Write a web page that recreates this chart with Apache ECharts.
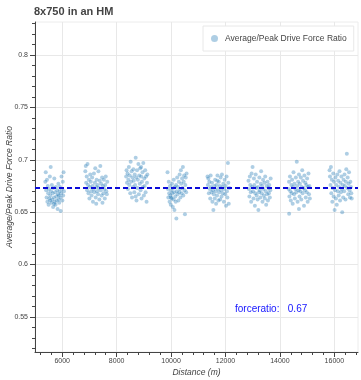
<!DOCTYPE html>
<html>
<head>
<meta charset="utf-8">
<script src="https://cdn.jsdelivr.net/npm/echarts@6/dist/echarts.min.js"></script>
<style>
html,body{margin:0;padding:0;background:#fff;}
#chart{width:361px;height:380px;}
</style>
</head>
<body>
<div id="chart"></div>
<script>
// ---- data: [distance (m), average/peak drive force ratio] per 750 m piece ----
const piece1 = [[5380,0.679],[5395,0.688],[5410,0.671],[5425,0.664],[5440,0.681],[5455,0.660],[5470,0.675],[5485,0.668],[5500,0.657],[5515,0.672],[5530,0.663],[5545,0.684],[5560,0.666],[5577,0.693],[5590,0.670],[5605,0.659],[5620,0.676],[5635,0.662],[5650,0.668],[5665,0.655],[5680,0.673],[5695,0.664],[5710,0.682],[5725,0.660],[5740,0.669],[5755,0.657],[5770,0.674],[5785,0.665],[5800,0.661],[5815,0.671],[5830,0.653],[5845,0.667],[5860,0.677],[5875,0.662],[5890,0.659],[5905,0.670],[5920,0.674],[5935,0.664],[5945,0.651],[5960,0.668],[5975,0.684],[5990,0.672],[6005,0.661],[6020,0.679],[6035,0.666],[6050,0.688],[6065,0.670],[5560,0.661],[5700,0.658],[5880,0.666]];
const piece2 = [[6850,0.689],[6865,0.694],[6880,0.678],[6900,0.684],[6915,0.671],[6930,0.696],[6950,0.676],[6965,0.668],[6980,0.681],[7000,0.663],[7015,0.674],[7030,0.686],[7050,0.679],[7065,0.670],[7080,0.666],[7100,0.683],[7115,0.675],[7130,0.660],[7150,0.672],[7165,0.687],[7180,0.669],[7200,0.678],[7215,0.692],[7230,0.664],[7250,0.674],[7265,0.681],[7280,0.670],[7300,0.676],[7315,0.667],[7330,0.689],[7350,0.673],[7365,0.662],[7380,0.680],[7400,0.694],[7415,0.671],[7430,0.677],[7450,0.666],[7465,0.683],[7480,0.659],[7500,0.675],[7515,0.668],[7530,0.681],[7550,0.672],[7565,0.663],[7580,0.676],[7600,0.684],[7620,0.670],[7640,0.667],[7655,0.679],[7250,0.658]];
const piece3 = [[8350,0.684],[8365,0.690],[8380,0.678],[8400,0.687],[8415,0.672],[8430,0.681],[8450,0.693],[8465,0.676],[8480,0.685],[8500,0.668],[8515,0.698],[8530,0.679],[8550,0.689],[8565,0.664],[8580,0.683],[8600,0.674],[8615,0.691],[8630,0.680],[8650,0.669],[8665,0.686],[8680,0.676],[8700,0.702],[8715,0.683],[8730,0.661],[8750,0.690],[8765,0.673],[8780,0.681],[8800,0.696],[8815,0.667],[8830,0.685],[8850,0.677],[8865,0.692],[8880,0.671],[8900,0.684],[8915,0.663],[8930,0.679],[8950,0.688],[8965,0.674],[8980,0.697],[9000,0.666],[9015,0.682],[9030,0.675],[9050,0.690],[9065,0.669],[9080,0.684],[9100,0.660],[9115,0.678],[9130,0.686],[8700,0.665],[8900,0.693]];
const piece4 = [[9870,0.688],[9885,0.672],[9900,0.664],[9915,0.679],[9930,0.668],[9945,0.660],[9960,0.675],[9975,0.666],[9990,0.657],[10005,0.671],[10020,0.663],[10035,0.677],[10050,0.668],[10065,0.655],[10080,0.673],[10095,0.662],[10110,0.669],[10125,0.652],[10140,0.674],[10155,0.665],[10170,0.660],[10185,0.676],[10195,0.644],[10210,0.670],[10225,0.683],[10240,0.667],[10255,0.674],[10270,0.661],[10285,0.679],[10300,0.669],[10315,0.686],[10330,0.672],[10345,0.664],[10360,0.690],[10375,0.677],[10390,0.668],[10405,0.682],[10420,0.673],[10435,0.693],[10450,0.666],[10465,0.679],[10480,0.685],[10495,0.671],[10510,0.648],[10525,0.676],[10540,0.683],[10555,0.669],[10570,0.687],[10100,0.681],[10000,0.664]];
const piece5 = [[11340,0.684],[11355,0.676],[11370,0.682],[11390,0.668],[11405,0.679],[11420,0.672],[11440,0.663],[11455,0.685],[11470,0.674],[11490,0.669],[11505,0.678],[11520,0.660],[11540,0.671],[11555,0.652],[11570,0.667],[11590,0.675],[11605,0.663],[11620,0.681],[11640,0.670],[11655,0.658],[11670,0.676],[11690,0.666],[11705,0.685],[11720,0.672],[11740,0.661],[11755,0.679],[11770,0.669],[11790,0.675],[11805,0.662],[11820,0.683],[11840,0.671],[11855,0.665],[11870,0.686],[11890,0.674],[11905,0.668],[11920,0.677],[11940,0.660],[11955,0.672],[11970,0.681],[11990,0.667],[12005,0.675],[12020,0.656],[12040,0.684],[12055,0.670],[12070,0.664],[12090,0.697],[12105,0.678],[12120,0.658],[12140,0.673],[11700,0.680]];
const piece6 = [[12845,0.680],[12860,0.672],[12880,0.665],[12895,0.684],[12910,0.676],[12930,0.669],[12945,0.660],[12960,0.687],[12980,0.674],[12995,0.693],[13010,0.670],[13030,0.663],[13045,0.682],[13060,0.676],[13080,0.656],[13095,0.668],[13110,0.686],[13130,0.673],[13145,0.666],[13160,0.679],[13180,0.662],[13195,0.674],[13210,0.652],[13230,0.669],[13245,0.683],[13260,0.671],[13280,0.664],[13295,0.677],[13310,0.689],[13330,0.668],[13345,0.675],[13360,0.660],[13380,0.681],[13395,0.672],[13410,0.666],[13430,0.678],[13445,0.663],[13460,0.684],[13480,0.670],[13495,0.657],[13510,0.675],[13530,0.667],[13545,0.679],[13560,0.661],[13580,0.673],[13595,0.668],[13610,0.676],[13630,0.664],[13645,0.671],[13660,0.682]];
const piece7 = [[14320,0.672],[14335,0.679],[14350,0.665],[14370,0.684],[14385,0.670],[14400,0.661],[14420,0.676],[14435,0.668],[14450,0.681],[14470,0.658],[14485,0.674],[14500,0.688],[14520,0.667],[14535,0.677],[14550,0.663],[14570,0.672],[14585,0.683],[14600,0.669],[14620,0.698],[14635,0.675],[14650,0.660],[14670,0.679],[14685,0.671],[14700,0.686],[14720,0.665],[14735,0.677],[14750,0.670],[14770,0.683],[14785,0.662],[14800,0.674],[14820,0.690],[14835,0.668],[14850,0.680],[14870,0.673],[14885,0.656],[14900,0.685],[14920,0.671],[14935,0.678],[14950,0.664],[14970,0.676],[14985,0.669],[15000,0.682],[15020,0.660],[15035,0.674],[15050,0.687],[15070,0.667],[15085,0.675],[15100,0.663],[14340,0.6485],[14700,0.653]];
const piece8 = [[15825,0.690],[15840,0.684],[15860,0.676],[15875,0.693],[15890,0.668],[15910,0.681],[15925,0.660],[15940,0.673],[15960,0.687],[15975,0.665],[15990,0.679],[16010,0.652],[16025,0.671],[16040,0.683],[16060,0.663],[16075,0.676],[16090,0.657],[16110,0.686],[16125,0.670],[16140,0.680],[16160,0.666],[16175,0.674],[16190,0.689],[16210,0.661],[16225,0.678],[16240,0.669],[16260,0.684],[16275,0.672],[16290,0.650],[16310,0.676],[16325,0.664],[16340,0.681],[16360,0.670],[16375,0.686],[16390,0.675],[16410,0.662],[16425,0.679],[16440,0.691],[16460,0.7057],[16475,0.673],[16490,0.683],[16510,0.667],[16525,0.677],[16540,0.688],[16560,0.671],[16575,0.664],[16590,0.679],[16610,0.674],[16625,0.668],[16640,0.663]];

const meanRatio = 0.6735;
const meanLabel = 'forceratio:   0.67';
const seriesName = 'Average/Peak Drive Force Ratio';
const chartTitle = '8x750 in an HM';

// ---- axes ----
const xRange = [5000, 16870];
const yRange = [0.5165, 0.8315];
const xMajorTicks = [6000, 8000, 10000, 12000, 14000, 16000];
const xMinorTicks = [5200, 5600, 6400, 6800, 7200, 7600, 8400, 8800, 9200, 9600, 10400, 10800, 11200, 11600, 12400, 12800, 13200, 13600, 14400, 14800, 15200, 15600, 16400, 16800];
const yMajorTicks = [0.55, 0.6, 0.65, 0.7, 0.75, 0.8];
const yMinorTicks = [0.52, 0.53, 0.54, 0.56, 0.57, 0.58, 0.59, 0.61, 0.62, 0.63, 0.64, 0.66, 0.67, 0.68, 0.69, 0.71, 0.72, 0.73, 0.74, 0.76, 0.77, 0.78, 0.79, 0.81, 0.82, 0.83];

const allPoints = [].concat(piece1, piece2, piece3, piece4, piece5, piece6, piece7, piece8);

const FONT = '"Liberation Sans", Arial, Helvetica, sans-serif';
const AXIS_COLOR = '#444';

const chart = echarts.init(document.getElementById('chart'), null, {renderer: 'canvas'});
chart.setOption({
  animation: false,
  backgroundColor: '#fff',
  textStyle: {fontFamily: FONT},
  title: {
    text: chartTitle,
    left: 34, top: 6,
    padding: 0,
    textStyle: {fontSize: 11, fontWeight: 'bold', color: '#444', fontFamily: FONT}
  },
  legend: {
    data: [seriesName],
    left: 203, top: 26,
    padding: [8, 7, 8, 8],
    itemWidth: 7, itemHeight: 7, itemGap: 6,
    icon: 'circle',
    backgroundColor: '#fff',
    borderColor: '#e8e8e8', borderWidth: 1,
    textStyle: {fontSize: 8.5, color: '#444', fontFamily: FONT, padding: [0, 0, 0, 2]}
  },
  grid: {
    left: 35, right: 3, top: 22, bottom: 28,
    containLabel: false, outerBoundsMode: 'none',
    show: true, borderColor: '#ececec', borderWidth: 1, backgroundColor: 'transparent'
  },
  xAxis: [{
    type: 'value', position: 'bottom',
    min: xRange[0], max: xRange[1],
    name: 'Distance (m)', nameLocation: 'middle', nameGap: 16, nameMoveOverlap: false,
    nameTextStyle: {fontStyle: 'italic', fontSize: 8.5, color: '#444', fontFamily: FONT},
    axisLine: {show: true, lineStyle: {color: AXIS_COLOR, width: 1}},
    axisTick: {show: true, length: 5, customValues: xMajorTicks, lineStyle: {color: AXIS_COLOR}},
    axisLabel: {customValues: xMajorTicks, fontSize: 7, color: '#444', margin: 6, fontFamily: FONT,
      formatter: function (v) { return String(v); }},
    splitLine: {show: true, lineStyle: {color: '#e8e8e8', width: 1}}
  }, {
    type: 'value', position: 'bottom',
    min: xRange[0], max: xRange[1],
    axisLine: {show: false},
    axisTick: {show: true, length: 3, customValues: xMinorTicks, lineStyle: {color: AXIS_COLOR}},
    axisLabel: {show: false},
    splitLine: {show: false}
  }],
  yAxis: [{
    type: 'value', position: 'left',
    min: yRange[0], max: yRange[1],
    name: 'Average/Peak Drive Force Ratio', nameLocation: 'middle', nameGap: 21, nameMoveOverlap: false,
    nameTextStyle: {fontStyle: 'italic', fontSize: 8.5, color: '#444', fontFamily: FONT},
    axisLine: {show: true, lineStyle: {color: AXIS_COLOR, width: 1}},
    axisTick: {show: true, length: 5, customValues: yMajorTicks, lineStyle: {color: AXIS_COLOR}},
    axisLabel: {customValues: yMajorTicks, fontSize: 7, color: '#444', margin: 7, fontFamily: FONT,
      formatter: function (v) { return String(v); }},
    splitLine: {show: true, lineStyle: {color: '#e8e8e8', width: 1}}
  }, {
    type: 'value', position: 'left',
    min: yRange[0], max: yRange[1],
    axisLine: {show: false},
    axisTick: {show: true, length: 3, customValues: yMinorTicks, lineStyle: {color: AXIS_COLOR}},
    axisLabel: {show: false},
    splitLine: {show: false}
  }],
  series: [{
    name: seriesName,
    type: 'scatter',
    xAxisIndex: 0, yAxisIndex: 0,
    data: allPoints,
    symbol: 'circle',
    symbolSize: 4,
    itemStyle: {color: '#1f77b4', opacity: 0.36},
    markLine: {
      silent: true,
      precision: 4,
      symbol: ['none', 'none'],
      label: {show: false},
      lineStyle: {color: '#0a0ad8', width: 2, type: [5, 3], opacity: 1},
      data: [{yAxis: meanRatio}]
    }
  }],
  graphic: [{
    type: 'text',
    left: 235, top: 304,
    style: {text: meanLabel, fill: '#1515ff', font: '10px ' + FONT}
  }]
});
</script>
</body>
</html>
